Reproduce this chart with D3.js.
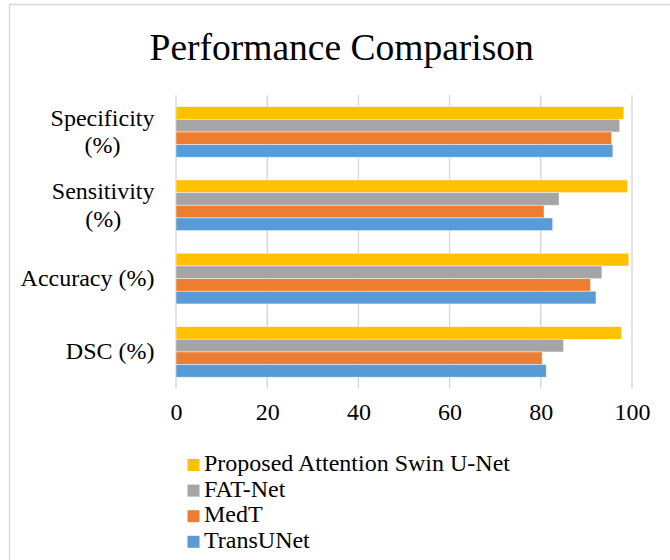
<!DOCTYPE html>
<html>
<head>
<meta charset="utf-8">
<script src="https://cdn.jsdelivr.net/npm/d3@7"></script>
<style>
  html, body { margin: 0; padding: 0; background: #fff; }
  svg { display: block; }
  text { font-family: "Liberation Serif", "Times New Roman", serif; fill: #000; }
</style>
</head>
<body>
<svg id="chart" width="670" height="560"></svg>
<script>
// Metrics shown top to bottom (label lines as drawn)
const categories = [["Specificity", "(%)"], ["Sensitivity", "(%)"], ["Accuracy (%)"], ["DSC (%)"]];
const categoryKeys = ["Specificity", "Sensitivity", "Accuracy", "DSC"];

// Series in the order they are stacked inside each group (top to bottom)
const seriesNames = ["Proposed Attention Swin U-Net", "FAT-Net", "MedT", "TransUNet"];
const seriesColors = ["#FFC000", "#A5A5A5", "#ED7D31", "#5B9BD5"];

// Values per metric: Specificity, Sensitivity, Accuracy, DSC
const proposedValues  = [98.2, 99.0, 99.3, 97.7];
const fatnetValues    = [97.3, 84.0, 93.4, 85.0];
const medtValues      = [95.5, 80.7, 90.9, 80.3];
const transunetValues = [95.8, 82.6, 92.1, 81.2];

const xTicks = [0, 20, 40, 60, 80, 100];

const seriesValues = [proposedValues, fatnetValues, medtValues, transunetValues];

const svg = d3.select("#chart");

// Chart area frame
svg.append("rect")
  .attr("x", 9.5).attr("y", 4.5)
  .attr("width", 700).attr("height", 600)
  .attr("fill", "none")
  .attr("stroke", "#d9d9d9")
  .attr("stroke-width", 1.5);

// Title
svg.append("text")
  .attr("x", 341.7).attr("y", 60)
  .attr("text-anchor", "middle")
  .attr("font-size", 37.5)
  .text("Performance Comparison");

const plot = { left: 176, right: 632, top: 95.3, bottom: 388.6 };

const x = d3.scaleLinear().domain([0, 100]).range([plot.left, plot.right]);
const y = d3.scaleBand().domain(categoryKeys).range([plot.top, plot.bottom]).paddingInner(0.31).paddingOuter(0.155);
const ySub = d3.scaleBand().domain(seriesNames).range([0, y.bandwidth()]);

// Vertical gridlines
svg.append("g")
  .selectAll("line")
  .data(xTicks)
  .join("line")
  .attr("x1", d => x(d)).attr("x2", d => x(d))
  .attr("y1", plot.top).attr("y2", plot.bottom)
  .attr("stroke", "#d9d9d9")
  .attr("stroke-width", 1.5);

// Bars
const groups = svg.append("g")
  .selectAll("g")
  .data(categoryKeys)
  .join("g")
  .attr("transform", d => `translate(0,${y(d)})`);

groups.selectAll("rect")
  .data((d, i) => seriesNames.map((s, j) => ({ series: s, color: seriesColors[j], value: seriesValues[j][i] })))
  .join("rect")
  .attr("x", x(0))
  .attr("y", d => ySub(d.series))
  .attr("width", d => x(d.value) - x(0))
  .attr("height", ySub.bandwidth())
  .attr("fill", d => d.color)
  .attr("stroke", "rgba(255,255,255,0.55)")
  .attr("stroke-width", 0.8);

// X axis tick labels
const xAxis = d3.axisBottom(x).tickValues(xTicks).tickSize(0).tickPadding(0).tickFormat(d3.format("d"));
const xg = svg.append("g").attr("transform", `translate(0,${plot.bottom})`).call(xAxis);
xg.select(".domain").remove();
xg.selectAll("text")
  .attr("font-size", 24)
  .attr("font-family", "Liberation Serif, Times New Roman, serif")
  .attr("fill", "#000")
  .attr("dy", 0)
  .attr("y", 31.5);

// Category labels, right-aligned; wrapped second lines centred under the first
const labelRight = 154.5;
const lineHeight = 27.5;
const labelG = svg.append("g");
categoryKeys.forEach((k, i) => {
  const lines = categories[i];
  const cy = y(k) + y.bandwidth() / 2;
  const t = labelG.append("text").attr("font-size", 24);
  const first = t.append("tspan")
    .attr("x", labelRight)
    .attr("text-anchor", "end")
    .attr("y", cy + 7.5 - (lines.length - 1) / 2 * lineHeight)
    .text(lines[0]);
  if (lines.length > 1) {
    const w = first.node().getComputedTextLength();
    t.append("tspan")
      .attr("x", labelRight - w / 2)
      .attr("text-anchor", "middle")
      .attr("y", cy + 7.5 + lineHeight / 2)
      .text(lines[1]);
  }
});

// Legend
const legend = svg.append("g");
seriesNames.forEach((s, i) => {
  const ly = 471 + i * 25.6;
  legend.append("rect")
    .attr("x", 187.5).attr("y", ly - 12)
    .attr("width", 12).attr("height", 12)
    .attr("fill", seriesColors[i]);
  legend.append("text")
    .attr("x", 204).attr("y", ly)
    .attr("font-size", 24)
    .text(s);
});
</script>
</body>
</html>
